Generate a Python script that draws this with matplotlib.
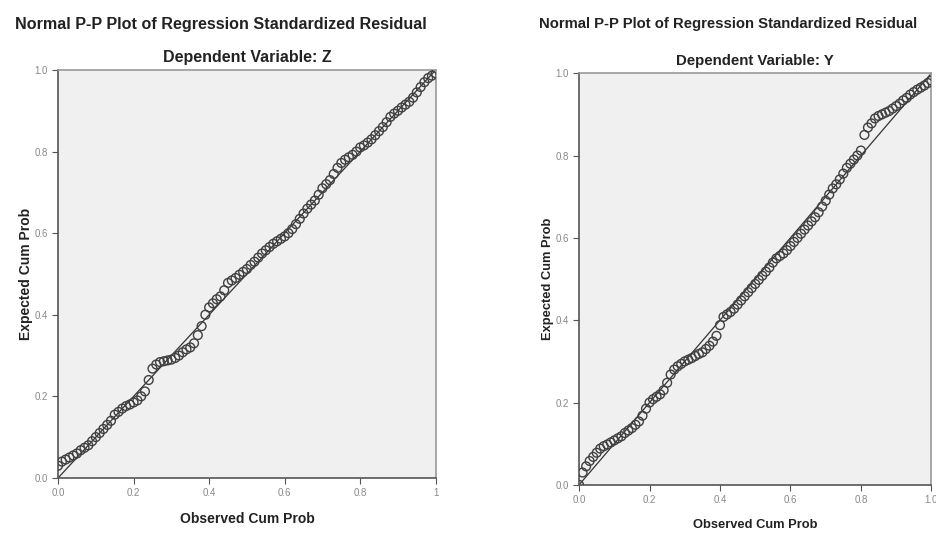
import matplotlib.pyplot as plt

plt.rcParams['font.family'] = ['Liberation Sans', 'DejaVu Sans']

# observed cum prob (shared x grid of the residual points)
obs = [0.00, 0.01, 0.02, 0.03, 0.04, 0.05, 0.06, 0.07, 0.08, 0.09,
       0.10, 0.11, 0.12, 0.13, 0.14, 0.15, 0.16, 0.17, 0.18, 0.19,
       0.20, 0.21, 0.22, 0.23, 0.24, 0.25, 0.26, 0.27, 0.28, 0.29,
       0.30, 0.31, 0.32, 0.33, 0.34, 0.35, 0.36, 0.37, 0.38, 0.39,
       0.40, 0.41, 0.42, 0.43, 0.44, 0.45, 0.46, 0.47, 0.48, 0.49,
       0.50, 0.51, 0.52, 0.53, 0.54, 0.55, 0.56, 0.57, 0.58, 0.59,
       0.60, 0.61, 0.62, 0.63, 0.64, 0.65, 0.66, 0.67, 0.68, 0.69,
       0.70, 0.71, 0.72, 0.73, 0.74, 0.75, 0.76, 0.77, 0.78, 0.79,
       0.80, 0.81, 0.82, 0.83, 0.84, 0.85, 0.86, 0.87, 0.88, 0.89,
       0.90, 0.91, 0.92, 0.93, 0.94, 0.95, 0.96, 0.97, 0.98, 0.99,
       1.00]

# expected cum prob, dependent variable Z
exp_z = [0.030, 0.040, 0.045, 0.050, 0.055, 0.060, 0.068, 0.074, 0.080, 0.090,
         0.100, 0.110, 0.120, 0.130, 0.140, 0.155, 0.162, 0.170, 0.176, 0.180,
         0.185, 0.190, 0.200, 0.212, 0.240, 0.268, 0.278, 0.284, 0.286, 0.288,
         0.290, 0.294, 0.300, 0.308, 0.315, 0.320, 0.330, 0.350, 0.372, 0.400,
         0.418, 0.428, 0.438, 0.445, 0.460, 0.478, 0.484, 0.490, 0.498, 0.505,
         0.512, 0.522, 0.530, 0.540, 0.550, 0.558, 0.566, 0.574, 0.580, 0.586,
         0.592, 0.600, 0.610, 0.622, 0.635, 0.648, 0.660, 0.670, 0.680, 0.694,
         0.710, 0.720, 0.730, 0.745, 0.760, 0.772, 0.780, 0.786, 0.792, 0.800,
         0.810, 0.815, 0.822, 0.830, 0.840, 0.850, 0.860, 0.872, 0.885, 0.893,
         0.900, 0.908, 0.915, 0.922, 0.932, 0.945, 0.958, 0.970, 0.980, 0.986,
         0.992]

# expected cum prob, dependent variable Y
exp_y = [0.000, 0.030, 0.045, 0.058, 0.068, 0.078, 0.088, 0.094, 0.098, 0.103,
         0.108, 0.113, 0.118, 0.126, 0.132, 0.138, 0.146, 0.154, 0.168, 0.185,
         0.200, 0.208, 0.214, 0.220, 0.230, 0.248, 0.268, 0.280, 0.288, 0.294,
         0.300, 0.304, 0.308, 0.313, 0.318, 0.322, 0.330, 0.338, 0.348, 0.362,
         0.388, 0.408, 0.414, 0.420, 0.428, 0.438, 0.448, 0.458, 0.468, 0.478,
         0.488, 0.498, 0.508, 0.518, 0.528, 0.540, 0.550, 0.556, 0.562, 0.570,
         0.580, 0.590, 0.600, 0.610, 0.620, 0.630, 0.640, 0.650, 0.662, 0.676,
         0.690, 0.705, 0.720, 0.730, 0.742, 0.756, 0.770, 0.780, 0.790, 0.800,
         0.812, 0.850, 0.868, 0.878, 0.890, 0.896, 0.900, 0.904, 0.908, 0.914,
         0.920, 0.926, 0.934, 0.940, 0.948, 0.954, 0.960, 0.965, 0.970, 0.976,
         0.982]

ticks = [0.0, 0.2, 0.4, 0.6, 0.8, 1.0]
ytick_labels = ['0.0', '0.2', '0.4', '0.6', '0.8', '1.0']
xtick_labels_z = ['0.0', '0.2', '0.4', '0.6', '0.8', '1']
xtick_labels_y = ['0.0', '0.2', '0.4', '0.6', '0.8', '1.0']

main_title = 'Normal P-P Plot of Regression Standardized Residual'

fig = plt.figure(figsize=(9.37, 5.34), dpi=100)


def draw_pp(ax, obs, exp, xlabels, subtitle, fs):
    ax.set_facecolor('#f0f0f0')
    ax.plot([0, 1], [0, 1], color='#333333', lw=0.9, zorder=2)
    ax.scatter(obs, exp, s=40, facecolors='none', edgecolors='#404040',
               linewidths=1.0, zorder=3)
    ax.set_xlim(0, 1)
    ax.set_ylim(0, 1)
    ax.set_xticks(ticks)
    ax.set_xticklabels(xlabels)
    ax.set_yticks(ticks)
    ax.set_yticklabels(ytick_labels)
    ax.tick_params(direction='out', length=4, width=0.8, labelsize=7,
                   colors='#555555', labelcolor='#888888')
    for side in ['left', 'bottom']:
        ax.spines[side].set_color('#555555')
        ax.spines[side].set_linewidth(1.2)
    for side in ['top', 'right']:
        ax.spines[side].set_color('#999999')
        ax.spines[side].set_linewidth(1.2)
    ax.set_xlabel('Observed Cum Prob', fontsize=fs - 0.5, fontweight='bold',
                  color='#222222', labelpad=10)
    ax.set_ylabel('Expected Cum Prob', fontsize=fs - 0.5, fontweight='bold',
                  color='#222222', labelpad=1)
    ax.set_title(subtitle, fontsize=fs + 1, fontweight='bold', color='#222222',
                 pad=6)


ax1 = fig.add_axes([0.062, 0.105, 0.403, 0.764])
draw_pp(ax1, obs, exp_z, xtick_labels_z, 'Dependent Variable: Z', 10.5)
fig.text(0.236, 0.955, main_title, ha='center', va='center', fontsize=11.6,
         fontweight='bold', color='#222222')

ax2 = fig.add_axes([0.618, 0.092, 0.376, 0.771])
draw_pp(ax2, obs, exp_y, xtick_labels_y, 'Dependent Variable: Y', 9.8)
fig.text(0.777, 0.955, main_title, ha='center', va='center', fontsize=10.7,
         fontweight='bold', color='#222222')

fig.savefig('out.png', dpi=100)
